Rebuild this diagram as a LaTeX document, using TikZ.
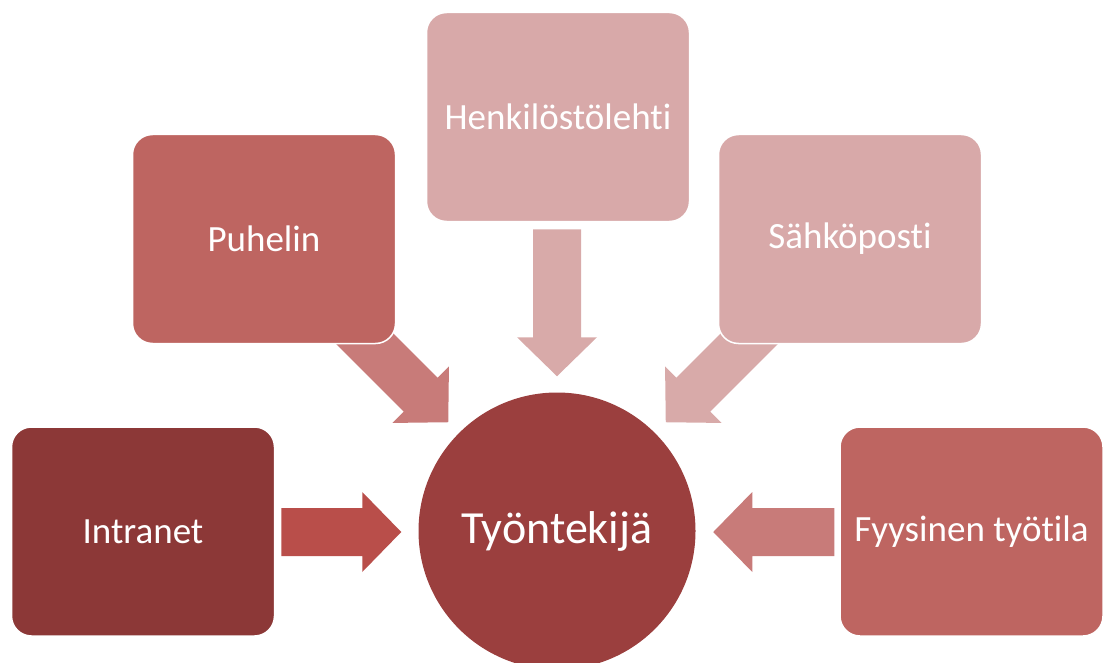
\documentclass[tikz,border=0pt]{standalone}
\usepackage{fontspec}
\setmainfont{Carlito}[Ligatures={NoCommon}]
\usetikzlibrary{calc,backgrounds}

\definecolor{cDark}{HTML}{8C3837}
\definecolor{cMid}{HTML}{BE6561}
\definecolor{cLight}{HTML}{D8A9A9}
\definecolor{cCore}{HTML}{9B3F3E}
\definecolor{aRed}{HTML}{B94E4A}
\definecolor{aMid}{HTML}{C87B79}
\definecolor{aLight}{HTML}{D8AAA9}

\tikzset{
  card/.style={rectangle, rounded corners=20pt, draw=white, line width=1.5pt,
    minimum width=263pt, minimum height=209pt, inner sep=0pt,
    text=white, font=\fontsize{37}{42}\selectfont},
  core/.style={circle, minimum size=277pt, inner sep=0pt, fill=cCore,
    text=white, font=\fontsize{46}{52}\selectfont},
}

% block arrow: start point, direction (deg), total length, colour
\newcommand\blockarrow[4]{%
  \fill[#4, shift={#1}, rotate=#2]
    (0,-24) -- ({#3-39},-24) -- ({#3-39},-40) -- (#3,0)
    -- ({#3-39},40) -- ({#3-39},24) -- (0,24) -- cycle;}

\begin{document}
\begin{tikzpicture}[x=1pt, y=-1pt]
  \useasboundingbox (0,0) rectangle (1110,663);
  \clip (0,0) rectangle (1110,663);

  \node[core] (worker) at (557,531) {Työntekijä};

  \node[card, fill=cDark]  (intra) at (143,531.5) {Intranet};
  \node[card, fill=cMid]   (phone) at (264,239)   {Puhelin};
  \node[card, fill=cLight] (paper) at (558,117)   {Henkilöstölehti};
  \node[card, fill=cLight] (mail)  at (850,239)   {Sähköposti};
  \node[card, fill=cMid]   (space) at (971.5,531.5) {Fyysinen työtila};

  \begin{scope}[on background layer]
    \blockarrow{($(intra.east)+(6,0.5)$)}{0}{120}{aRed}
    \blockarrow{($(phone.south east)+(-48,-22)$)}{-45}{141.4}{aMid}
    \blockarrow{($(paper.south)+(-1,7)$)}{-90}{147}{aLight}
    \blockarrow{($(mail.south west)+(48,-22)$)}{-135}{141.4}{aLight}
    \blockarrow{($(space.west)+(-5,0.5)$)}{180}{121}{aMid}
  \end{scope}
\end{tikzpicture}
\end{document}
